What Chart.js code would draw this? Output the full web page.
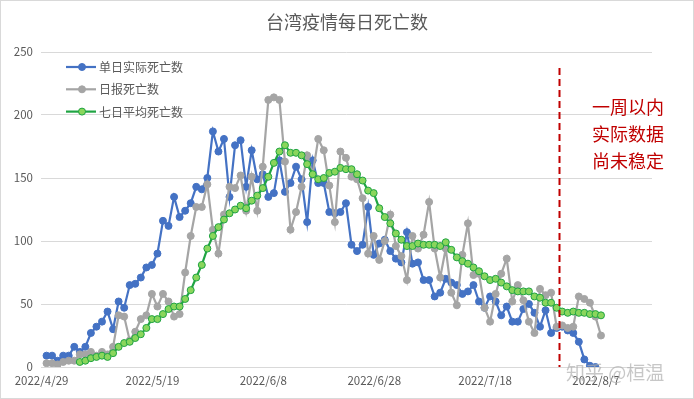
<!DOCTYPE html>
<html>
<head>
<meta charset="utf-8">
<script src="https://cdn.jsdelivr.net/npm/chart.js@4.4.0/dist/chart.umd.min.js"></script>
<style>
  html, body { margin: 0; padding: 0; background: #fff; }
  canvas { display: block; }
</style>
</head>
<body>
<canvas id="deathChart" width="694" height="399"></canvas>
<script>
// x axis: day index counted from 2022/4/29
const tickLabels = ['2022/4/29', '2022/5/19', '2022/6/8', '2022/6/28', '2022/7/18', '2022/8/7'];

// 单日实际死亡数 (from day 0)
const dailyActual = [
  9, 9, 5, 9, 9, 16, 12, 16, 27, 32,
  36, 44, 30, 52, 47, 65, 66, 71, 79, 81,
  90, 116, 112, 135, 119, 124, 130, 143, 141, 150,
  187, 171, 181, 135, 176, 180, 143, 172, 149, 153,
  135, 138, 164, 139, 146, 159, 149, 115, 164, 146,
  146, 123, 122, 123, 130, 97, 92, 97, 127, 89,
  98, 101, 92, 86, 83, 107, 82, 83, 69, 69,
  56, 59, 70, 67, 65, 58, 60, 65, 52, 47,
  56, 52, 41, 48, 36, 36, 46, 50, 43, 32,
  45, 27, 31, 32, 29, 27, 20, 6, 1, 0
];

// 日报死亡数 (from day 0)
const dailyReported = [
  3, 3, 2, 4, 5, 5, 10, 10, 12, 9,
  12, 10, 16, 41, 40, 21, 28, 38, 41, 58,
  48, 58, 52, 40, 42, 75, 104, 127, 127, 145,
  109, 90, 121, 143, 142, 152, 124, 151, 124, 159,
  212, 214, 212, 163, 109, 123, 143, 168, 153, 181,
  172, 144, 115, 171, 166, 151, 149, 134, 90, 104,
  85, 100, 121, 96, 88, 69, 104, 94, 105, 131,
  94, 71, 94, 59, 49, 89, 114, 73, 74, 47,
  36, 58, 74, 86, 52, 65, 53, 36, 27, 62,
  57, 59, 32, 33, 31, 32, 56, 54, 51, 40,
  25
];

// 七日平均死亡数 (from day 6)
const avgStartDay = 6;
const sevenDayAvg = [
  4, 5, 7, 8, 9, 8, 11, 16, 19, 20,
  23, 26, 31, 38, 38, 42, 46, 48, 48, 54,
  61, 71, 81, 94, 104, 111, 117, 122, 125, 128,
  126, 132, 136, 142, 151, 162, 171, 176, 170, 170,
  168, 161, 153, 149, 150, 154, 155, 158, 157, 157,
  153, 148, 140, 138, 126, 119, 114, 106, 101, 96,
  96, 98, 97, 97, 97, 96, 99, 93, 87, 84,
  82, 79, 76, 72, 69, 70, 67, 64, 61, 60,
  60, 60, 56, 55, 51, 51, 47, 44, 43, 44,
  43, 43, 42, 42, 41
];

const markerDay = 92.5; // around 7/31, data after this not settled
const noteLines = ['一周以内', '实际数据', '尚未稳定'];

const BLUE = '#4472C4';
const GREY = '#A5A5A5';
const GREEN_LINE = '#1FA443';
const GREEN_FILL = '#8AD65C';
const TEXT = '#595959';
const GRID = '#D9D9D9';
const RED = '#C00000';
const CJK = '"Noto Sans CJK SC", "Noto Sans", sans-serif';

function toPoints(values, start = 0) {
    return values.map((v, i) => ({ x: i + start, y: v }));
}

const legendItems = [
    { text: '单日实际死亡数', line: BLUE, fill: BLUE, edge: BLUE },
    { text: '日报死亡数', line: GREY, fill: GREY, edge: GREY },
    { text: '七日平均死亡数', line: GREEN_LINE, fill: GREEN_FILL, edge: GREEN_LINE }
];

const decorPlugin = {
    id: 'decor',
    beforeDraw(chart) {
        const ctx = chart.ctx;
        ctx.save();
        ctx.fillStyle = '#fff';
        ctx.fillRect(0, 0, chart.width, chart.height);
        ctx.strokeStyle = GRID;
        ctx.lineWidth = 1;
        ctx.strokeRect(0.5, 0.5, chart.width - 1, chart.height - 1);
        ctx.restore();
    },
    afterDatasetsDraw(chart) {
        const ctx = chart.ctx;
        const xs = chart.scales.x;
        const area = chart.chartArea;

        // red dashed separator
        const lx = Math.round(xs.getPixelForValue(markerDay)) + 0.5;
        ctx.save();
        ctx.strokeStyle = RED;
        ctx.lineWidth = 2;
        ctx.setLineDash([7, 4]);
        ctx.beginPath();
        ctx.moveTo(lx, 68);
        ctx.lineTo(lx, area.bottom);
        ctx.stroke();
        ctx.restore();
    },
    afterDraw(chart) {
        const ctx = chart.ctx;
        ctx.save();

        // title
        ctx.fillStyle = TEXT;
        ctx.font = '18px ' + CJK;
        ctx.textAlign = 'center';
        ctx.textBaseline = 'middle';
        ctx.fillText('台湾疫情每日死亡数', 347, 22);

        // legend inside plot
        ctx.font = '12px ' + CJK;
        ctx.textAlign = 'left';
        legendItems.forEach((item, i) => {
            const y = 67 + i * 22.3;
            ctx.strokeStyle = item.line;
            ctx.lineWidth = 2.2;
            ctx.beginPath();
            ctx.moveTo(66, y);
            ctx.lineTo(96, y);
            ctx.stroke();
            ctx.fillStyle = item.fill;
            ctx.strokeStyle = item.edge;
            ctx.lineWidth = 1;
            ctx.beginPath();
            ctx.arc(82, y, 3.5, 0, Math.PI * 2);
            ctx.fill();
            ctx.stroke();
            ctx.fillStyle = TEXT;
            ctx.fillText(item.text, 99, y + 0.5);
        });

        // red note
        ctx.fillStyle = RED;
        ctx.font = '18px ' + CJK;
        ctx.textAlign = 'center';
        noteLines.forEach((t, i) => ctx.fillText(t, 628, 107 + i * 27));

        // watermark
        ctx.fillStyle = 'rgba(175,175,175,0.7)';
        ctx.font = '19px ' + CJK;
        ctx.textAlign = 'left';
        ctx.fillText('知乎 @桓温', 566, 373);

        ctx.restore();
    }
};

document.addEventListener('DOMContentLoaded', () => {
    const ctx = document.getElementById('deathChart').getContext('2d');
    new Chart(ctx, {
        type: 'line',
        data: {
            datasets: [{
                label: '单日实际死亡数',
                data: toPoints(dailyActual),
                borderColor: BLUE,
                backgroundColor: BLUE,
                pointBackgroundColor: BLUE,
                pointBorderColor: BLUE,
                borderWidth: 2.2,
                pointRadius: 3.5,
                pointBorderWidth: 1,
                order: 3
            }, {
                label: '日报死亡数',
                data: toPoints(dailyReported),
                borderColor: GREY,
                backgroundColor: GREY,
                pointBackgroundColor: GREY,
                pointBorderColor: GREY,
                borderWidth: 2.2,
                pointRadius: 3.5,
                pointBorderWidth: 1,
                order: 2
            }, {
                label: '七日平均死亡数',
                data: toPoints(sevenDayAvg, avgStartDay),
                borderColor: GREEN_LINE,
                backgroundColor: GREEN_FILL,
                pointBackgroundColor: GREEN_FILL,
                pointBorderColor: GREEN_LINE,
                borderWidth: 2.2,
                pointRadius: 3.5,
                pointBorderWidth: 1,
                order: 1
            }]
        },
        options: {
            responsive: false,
            animation: false,
            devicePixelRatio: 1,
            layout: { padding: { top: 52, right: 42, left: 0, bottom: 0 } },
            plugins: {
                legend: { display: false },
                title: { display: false },
                tooltip: { enabled: false }
            },
            scales: {
                x: {
                    type: 'linear',
                    min: -1,
                    max: 109.2,
                    grid: { display: false, drawTicks: false },
                    border: { display: true, color: GRID, width: 1 },
                    afterBuildTicks: (scale) => {
                        scale.ticks = tickLabels.map((_, i) => ({ value: i * 20 - 0.9 }));
                    },
                    afterFit: (scale) => { scale.height = 32; },
                    ticks: {
                        autoSkip: false,
                        maxRotation: 0,
                        padding: 7,
                        color: TEXT,
                        font: { family: CJK, size: 11.5 },
                        callback: (value, index) => tickLabels[index]
                    }
                },
                y: {
                    min: 0,
                    max: 250,
                    grid: { color: GRID, drawTicks: false },
                    border: { display: false },
                    afterFit: (scale) => { scale.width = 41; },
                    ticks: {
                        stepSize: 50,
                        padding: 8,
                        color: TEXT,
                        font: { family: CJK, size: 11.5 }
                    }
                }
            }
        },
        plugins: [decorPlugin]
    });
});
</script>
</body>
</html>
